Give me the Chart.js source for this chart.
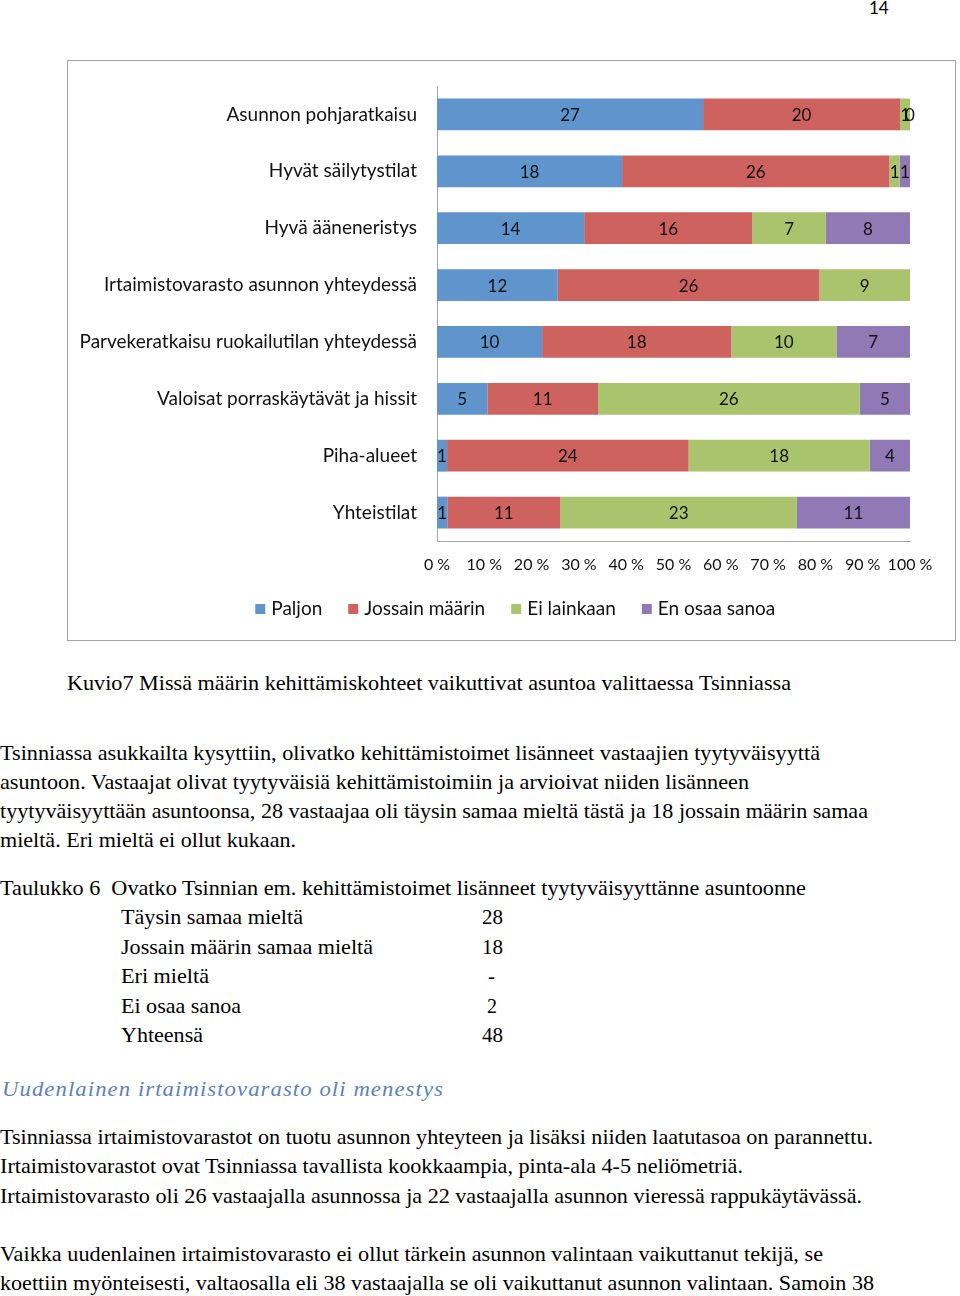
<!DOCTYPE html>
<html><head><meta charset="utf-8">
<script src="https://cdn.jsdelivr.net/npm/chart.js@4.4.0/dist/chart.umd.min.js"></script>
<style>
body{margin:0;width:960px;height:1296px;background:#fff;position:relative;overflow:hidden;}
.t{position:absolute;font-family:"Liberation Serif","Times New Roman",serif;font-size:21px;color:#000;white-space:nowrap;line-height:20px;transform-origin:0 0;}
#box{position:absolute;left:67px;top:60px;width:887px;height:579px;border:1px solid #a6a6a6;}
#pn{position:absolute;left:869px;top:-2px;font-family:Lato,"Open Sans",sans-serif;font-size:17px;line-height:20px;}
.h{color:#5b82b8;font-style:italic;letter-spacing:1px;}
</style></head><body>
<div id="pn">14</div>
<div id="box"><canvas id="c" width="887" height="579"></canvas></div>

<div class="t" style="left:67px;top:673px" data-w="724">Kuvio7 Missä määrin kehittämiskohteet vaikuttivat asuntoa valittaessa Tsinniassa</div>
<div class="t" style="left:0;top:743px" data-w="820">Tsinniassa asukkailta kysyttiin, olivatko kehittämistoimet lisänneet vastaajien tyytyväisyyttä</div>
<div class="t" style="left:0;top:772px" data-w="749">asuntoon. Vastaajat olivat tyytyväisiä kehittämistoimiin ja arvioivat niiden lisänneen</div>
<div class="t" style="left:0;top:801px" data-w="868">tyytyväisyyttään asuntoonsa, 28 vastaajaa oli täysin samaa mieltä tästä ja 18 jossain määrin samaa</div>
<div class="t" style="left:0;top:830px" data-w="296">mieltä. Eri mieltä ei ollut kukaan.</div>

<div class="t" style="left:0;top:878px" data-w="806">Taulukko 6&nbsp; Ovatko Tsinnian em. kehittämistoimet lisänneet tyytyväisyyttänne asuntoonne</div>
<div class="t" style="left:121px;top:907px" data-w="182">Täysin samaa mieltä</div>
<div class="t" style="left:121px;top:937px" data-w="252">Jossain määrin samaa mieltä</div>
<div class="t" style="left:121px;top:966px" data-w="88">Eri mieltä</div>
<div class="t" style="left:121px;top:996px" data-w="120">Ei osaa sanoa</div>
<div class="t" style="left:121px;top:1025px" data-w="82">Yhteensä</div>
<div class="t" style="left:482px;top:907px" data-w="21">28</div>
<div class="t" style="left:482px;top:937px" data-w="21">18</div>
<div class="t" style="left:488px;top:966px">-</div>
<div class="t" style="left:487px;top:996px" data-w="10">2</div>
<div class="t" style="left:482px;top:1025px" data-w="21">48</div>

<div class="t h" style="left:2px;top:1079px" data-w="442">Uudenlainen irtaimistovarasto oli menestys</div>

<div class="t" style="left:0;top:1127px" data-w="873">Tsinniassa irtaimistovarastot on tuotu asunnon yhteyteen ja lisäksi niiden laatutasoa on parannettu.</div>
<div class="t" style="left:0;top:1156px" data-w="743">Irtaimistovarastot ovat Tsinniassa tavallista kookkaampia, pinta-ala 4-5 neliömetriä.</div>
<div class="t" style="left:0;top:1186px" data-w="862">Irtaimistovarasto oli 26 vastaajalla asunnossa ja 22 vastaajalla asunnon vieressä rappukäytävässä.</div>
<div class="t" style="left:0;top:1244px" data-w="823">Vaikka uudenlainen irtaimistovarasto ei ollut tärkein asunnon valintaan vaikuttanut tekijä, se</div>
<div class="t" style="left:0;top:1273px" data-w="874">koettiin myönteisesti, valtaosalla eli 38 vastaajalla se oli vaikuttanut asunnon valintaan. Samoin 38</div>

<script>
const categories = ["Asunnon pohjaratkaisu","Hyvät säilytystilat","Hyvä ääneneristys","Irtaimistovarasto asunnon yhteydessä","Parvekeratkaisu ruokailutilan yhteydessä","Valoisat porraskäytävät ja hissit","Piha-alueet","Yhteistilat"];
const seriesNames = ["Paljon","Jossain määrin","Ei lainkaan","En osaa sanoa"];
const paljon = [27,18,14,12,10,5,1,1];
const jossainMaarin = [20,26,16,26,18,11,24,11];
const eiLainkaan = [1,1,7,9,10,26,18,23];
const enOsaaSanoa = [0,1,8,null,7,5,4,11];
const tickValues = [0,10,20,30,40,50,60,70,80,90,100];
const colors = ["#5f94cc","#cd625f","#a9c46d","#9079b4"];

document.querySelectorAll('.t[data-w]').forEach(el=>{
  const w = el.getBoundingClientRect().width;
  const target = +el.dataset.w;
  if (w>0) el.style.transform = 'scaleX(' + (target/w) + ')';
});

const raw = [paljon, jossainMaarin, eiLainkaan, enOsaaSanoa];
const totals = categories.map((_,i)=>raw.reduce((s,a)=>s+(a[i]||0),0));
const FONT = 'Lato, "Open Sans", sans-serif';

const labelPlugin = {
  id:'vals',
  afterDatasetsDraw(chart){
    const ctx = chart.ctx;
    ctx.save();
    ctx.font = '17px ' + FONT;
    ctx.fillStyle = '#111';
    ctx.textAlign = 'center';
    ctx.textBaseline = 'middle';
    chart.data.datasets.forEach((ds,di)=>{
      const meta = chart.getDatasetMeta(di);
      meta.data.forEach((el,i)=>{
        const v = ds.rawValues[i];
        if (v===null || v===undefined) return;
        const p = el.getCenterPoint();
        ctx.fillText(String(v), p.x, p.y+1);
      });
    });
    ctx.restore();
  }
};
const legendShift = {
  id:'legendShift',
  afterLayout(chart){
    const S = 28;
    chart.legend.left += S; chart.legend.right += S;
  }
};

new Chart(document.getElementById('c'), {
  type:'bar',
  data:{
    labels:categories,
    datasets: raw.map((arr,k)=>({
      label:seriesNames[k],
      data:arr.map((v,i)=> v===null ? null : v/totals[i]*100),
      rawValues:arr,
      backgroundColor:colors[k],
      borderWidth:0,
      barPercentage:0.56,
      categoryPercentage:1
    }))
  },
  options:{
    indexAxis:'y',
    responsive:false,
    animation:false,
    events:[],
    layout:{padding:{top:25,right:45,left:0,bottom:11.5}},
    scales:{
      x:{stacked:true,min:0,max:100,
        grid:{display:false,drawTicks:false},
        border:{display:true,color:'#a6a6a6',width:1},
        afterBuildTicks(s){ s.ticks = tickValues.map(v=>({value:v})); },
        afterFit(s){ s.height = 29; },
        ticks:{callback:v=>v+' %',font:{size:16,family:FONT},color:'#111',padding:14,maxRotation:0,autoSkip:false}
      },
      y:{stacked:true,
        grid:{display:false,drawTicks:false},
        border:{display:true,color:'#a6a6a6',width:1},
        ticks:{font:{size:19,family:FONT},color:'#111',padding:20},
        afterFit(s){ s.width = 369; s.paddingTop = 0; s.paddingBottom = 0; }
      }
    },
    plugins:{
      legend:{position:'bottom',
        labels:{usePointStyle:true,pointStyle:'rect',boxWidth:3,boxHeight:10,padding:29.5,font:{size:19,family:FONT},color:'#111'}
      },
      tooltip:{enabled:false}
    }
  },
  plugins:[labelPlugin, legendShift]
});
</script>
</body></html>
